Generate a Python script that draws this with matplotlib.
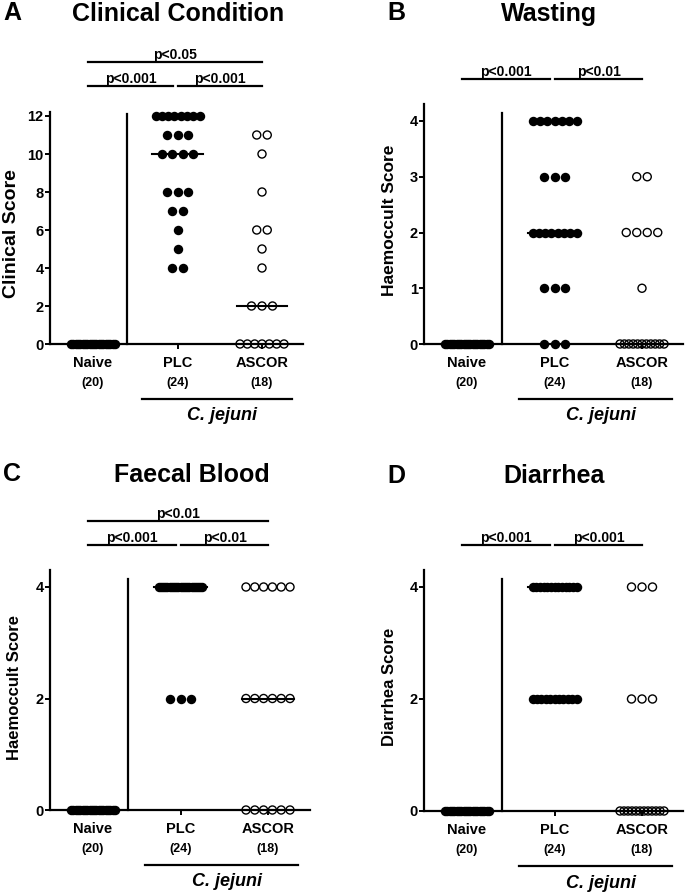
import matplotlib.pyplot as plt
import numpy as np

plt.rcParams['font.family'] = ['Liberation Sans', 'DejaVu Sans']
plt.rcParams['font.weight'] = 'bold'

W, H = 685, 893

groups = ['Naive', 'PLC', 'ASCOR']

# A - clinical score
clin_naive = [0, 0, 0, 0, 0, 0, 0, 0, 0, 0, 0, 0, 0, 0, 0, 0, 0, 0, 0, 0]
clin_plc = [12, 12, 12, 12, 12, 12, 12, 12, 11, 11, 11, 10, 10, 10, 10,
            8, 8, 8, 7, 7, 6, 5, 4, 4]
clin_ascor = [11, 11, 10, 8, 6, 6, 5, 4, 2, 2, 2, 0, 0, 0, 0, 0, 0, 0]

# B - wasting
wast_naive = [0, 0, 0, 0, 0, 0, 0, 0, 0, 0, 0, 0, 0, 0, 0, 0, 0, 0, 0, 0]
wast_plc = [4, 4, 4, 4, 4, 4, 4, 3, 3, 3, 2, 2, 2, 2, 2, 2, 2, 2,
            1, 1, 1, 0, 0, 0]
wast_ascor = [3, 3, 2, 2, 2, 2, 1, 0, 0, 0, 0, 0, 0, 0, 0, 0, 0, 0]

# C - faecal blood
blood_naive = [0, 0, 0, 0, 0, 0, 0, 0, 0, 0, 0, 0, 0, 0, 0, 0, 0, 0, 0, 0]
blood_plc = [4, 4, 4, 4, 4, 4, 4, 4, 4, 4, 4, 4, 4, 4, 4, 4, 4, 4, 4, 4, 4,
             2, 2, 2]
blood_ascor = [4, 4, 4, 4, 4, 4, 2, 2, 2, 2, 2, 2, 0, 0, 0, 0, 0, 0]

# D - diarrhea
diar_naive = [0, 0, 0, 0, 0, 0, 0, 0, 0, 0, 0, 0, 0, 0, 0, 0, 0, 0, 0, 0]
diar_plc = [4, 4, 4, 4, 4, 4, 4, 4, 4, 4, 4, 4, 4,
            2, 2, 2, 2, 2, 2, 2, 2, 2, 2, 2]
diar_ascor = [4, 4, 4, 2, 2, 2, 0, 0, 0, 0, 0, 0, 0, 0, 0, 0, 0, 0]

# significance bars: (start group, end group, label)
sig_a = [(0, 1, 'p<0.001'), (1, 2, 'p<0.001'), (0, 2, 'p<0.05')]
sig_b = [(0, 1, 'p<0.001'), (1, 2, 'p<0.01')]
sig_c = [(0, 1, 'p<0.001'), (1, 2, 'p<0.01'), (0, 2, 'p<0.01')]
sig_d = [(0, 1, 'p<0.001'), (1, 2, 'p<0.001')]


def pt(p):
    # pixels -> points at dpi 100
    return p * 0.72


fig = plt.figure(figsize=(6.85, 8.93), dpi=100)


def draw_panel(letter, title, ylabel, data, yticks, ytop, sigs, box, title_xy, letter_xy,
               ylab_xy, ylab_size):
    left, naive, dx, right, y0, ppu, bar_px = box
    ax = fig.add_axes([left / W, 1 - y0 / H, (right - left) / W, ytop * ppu / H])
    ax.set_xlim((left - naive) / dx, (right - naive) / dx)
    ax.set_ylim(0, ytop)
    for s in ['top', 'right']:
        ax.spines[s].set_visible(False)
    for s in ['left', 'bottom']:
        ax.spines[s].set_linewidth(1.6)
    ax.set_yticks(yticks)
    ax.set_xticks([0, 1, 2])
    ax.set_xticklabels([])
    ax.tick_params(direction='out', length=3.5, width=1.4, labelsize=10.5, pad=1)

    # separator between naive and infected groups
    ax.plot([0.4, 0.4], [0, yticks[-1] + (ytop - yticks[-1]) * 0.5],
            color='black', lw=1.6, clip_on=False)

    for gi, vals in enumerate(data):
        vals = np.array(vals, dtype=float)
        xs = np.zeros(len(vals))
        for v in np.unique(vals):
            idx = np.where(vals == v)[0]
            n = len(idx)
            step = min(10.5, 44.0 / (n - 1)) if n > 1 else 0
            xs[idx] = gi + (np.arange(n) - (n - 1) / 2) * step / dx
        if gi < 2:
            ax.scatter(xs, vals, s=6.8 ** 2, color='black', linewidths=0,
                       zorder=3, clip_on=False)
        else:
            ax.scatter(xs, vals, s=5.8 ** 2, facecolors='none', edgecolors='black',
                       linewidths=1.0, zorder=3, clip_on=False)
        med = np.median(vals)
        ax.plot([gi - 0.3, gi + 0.3], [med, med], color='black', lw=1.5,
                zorder=4, clip_on=False)

        ax.annotate(groups[gi], xy=(gi, 0), xytext=(0, -pt(19)), textcoords='offset points',
                    ha='center', va='center', fontsize=10.5, annotation_clip=False)
        ax.annotate('(%d)' % len(vals), xy=(gi, 0), xytext=(0, -pt(39)),
                    textcoords='offset points', ha='center', va='center', fontsize=9,
                    annotation_clip=False)

    ax.plot([1 - 36 / dx, 2 + 30 / dx], [-55 / ppu, -55 / ppu], color='black',
            lw=1.6, clip_on=False)
    ax.annotate('C. jejuni', xy=(1.53, 0), xytext=(0, -pt(72)), textcoords='offset points',
                ha='center', va='center', fontsize=13, style='italic',
                annotation_clip=False)

    for (g1, g2, label) in sigs:
        if g2 - g1 == 2:
            x1, x2, yb = -0.06, 2.0, bar_px + 24
        elif g1 == 0:
            x1, x2, yb = -0.06, 0.95, bar_px
        else:
            x1, x2, yb = 1.01, 2.0, bar_px
        yv = yb / ppu
        ax.plot([x1, x2], [yv, yv], color='black', lw=1.6, clip_on=False)
        ax.annotate(label, xy=((x1 + x2) / 2, yv), xytext=(0, pt(3)),
                    textcoords='offset points', ha='center', va='baseline', fontsize=10,
                    annotation_clip=False)

    fig.text(ylab_xy[0] / W, 1 - ylab_xy[1] / H, ylabel, rotation=90, ha='center',
             va='center', fontsize=ylab_size)
    fig.text(title_xy[0] / W, 1 - title_xy[1] / H, title, ha='center', va='center',
             fontsize=18)
    fig.text(letter_xy[0] / W, 1 - letter_xy[1] / H, letter, ha='left', va='center',
             fontsize=18)
    return ax


draw_panel('A', 'Clinical Condition', 'Clinical Score',
           [clin_naive, clin_plc, clin_ascor], [0, 2, 4, 6, 8, 10, 12], 12.2, sig_a,
           (50, 93, 84.5, 303, 344, 19.0, 258), (178, 14), (3, 13), (12, 234), 14)
draw_panel('B', 'Wasting', 'Haemoccult Score',
           [wast_naive, wast_plc, wast_ascor], [0, 1, 2, 3, 4], 4.3, sig_b,
           (424, 467, 87.5, 683, 344, 55.75, 265), (549, 14), (387, 13), (390, 220), 12.5)
draw_panel('C', 'Faecal Blood', 'Haemoccult Score',
           [blood_naive, blood_plc, blood_ascor], [0, 2, 4], 4.3, sig_c,
           (50, 93, 87.5, 310, 810, 55.75, 265), (192, 475), (3, 474), (15, 687), 12)
draw_panel('D', 'Diarrhea', 'Diarrhea Score',
           [diar_naive, diar_plc, diar_ascor], [0, 2, 4], 4.3, sig_d,
           (424, 467, 87.5, 683, 811, 56.0, 266), (554, 476), (387, 476), (390, 687), 12)

fig.savefig('out.png', dpi=100)
